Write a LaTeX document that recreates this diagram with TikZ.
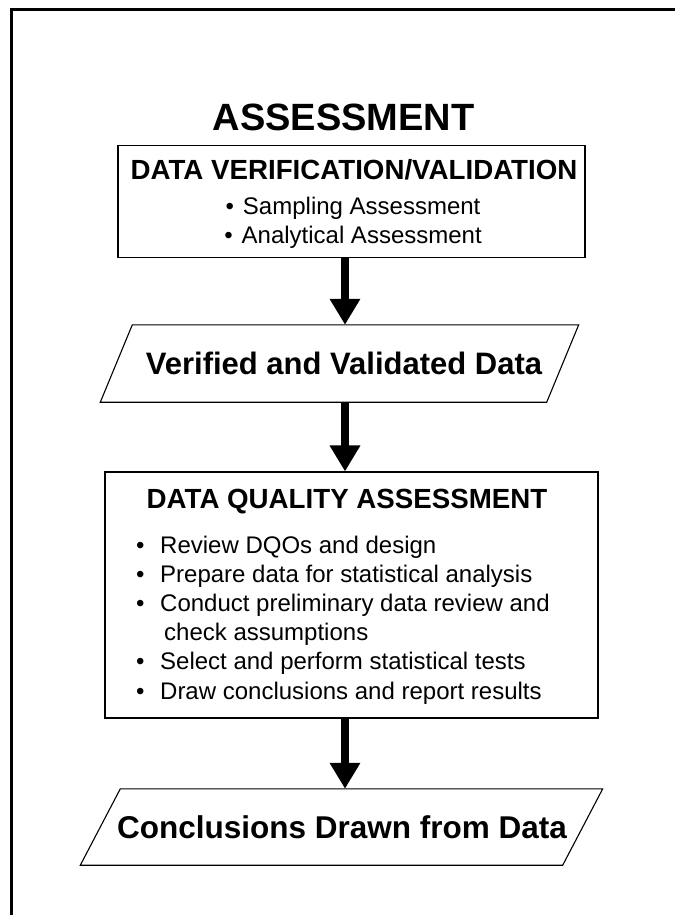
\documentclass[tikz,border=0pt]{standalone}
\usepackage{fontspec}
\setmainfont{Liberation Sans}
\usetikzlibrary{arrows.meta,calc}
\begin{document}
\begin{tikzpicture}[x=1pt,y=-1pt,
  hdr/.style={font=\fontsize{27.7}{32}\selectfont\bfseries, anchor=base, inner sep=0pt},
  itm/.style={font=\fontsize{24}{29}\selectfont, anchor=base west, inner sep=0pt},
  ctr/.style={font=\fontsize{24}{29}\selectfont, anchor=base, inner sep=0pt},
  boxn/.style={draw, line width=1.1pt, inner sep=0pt, rectangle},
  parn/.style={inner sep=0pt},
  partxt/.style={font=\fontsize{31}{36}\selectfont\bfseries, inner sep=0pt},
  paredge/.style={line width=1.1pt, line join=miter},
  flow/.style={line width=8pt, -{Triangle[length=26pt,width=29pt]}},
]
\useasboundingbox (0,0) rectangle (675,915);
\coordinate (axis) at (345,0);
% outer frame (top and left only)
\draw[line width=3.5pt, line join=miter] (11.5,915) -- (11.5,9.5) -- (675,9.5);

% title
\node[font=\fontsize{38}{44}\selectfont\bfseries, anchor=base, inner sep=0pt] (title) at (343.5,131) {ASSESSMENT};

% box 1
\node[boxn, minimum width=467pt, minimum height=112pt] (ver) at (351.5,201.5) {};
\node[hdr] (verT) at (354,179.5) {DATA VERIFICATION/VALIDATION};
\node[ctr] (verA) at (353,214) {\textbullet\hspace{9pt}Sampling Assessment};
\node[ctr] (verB) at (353,243) {\textbullet\hspace{9pt}Analytical Assessment};

% parallelogram 1
\node[parn, minimum width=446pt, minimum height=77pt] (vvd) at (339.5,363.5) {};
\draw[paredge] ($(vvd.south west)+(-16,0)$) -- ($(vvd.north west)+(16,0)$) -- ($(vvd.north east)+(16,0)$) -- ($(vvd.south east)+(-16,0)$) -- cycle;
\node[partxt] (vvdT) at (344,363.5) {Verified and Validated Data};

% DQA box
\node[boxn, minimum width=493pt, minimum height=246pt] (dqa) at (351.5,595) {};
\node[hdr] (dqaT) at (347,508) {DATA QUALITY ASSESSMENT};
\node[itm] (d1) at (136,553) {\makebox[24pt][l]{\textbullet}Review DQOs and design};
\node[itm] (d2) at (136,582.2) {\makebox[24pt][l]{\textbullet}Prepare data for statistical analysis};
\node[itm] (d3) at (136,611.4) {\makebox[24pt][l]{\textbullet}Conduct preliminary data review and};
\node[itm] (d3b) at (164,640.6) {check assumptions};
\node[itm] (d4) at (136,669.8) {\makebox[24pt][l]{\textbullet}Select and perform statistical tests};
\node[itm] (d5) at (136,699) {\makebox[24pt][l]{\textbullet}Draw conclusions and report results};

% parallelogram 2
\node[parn, minimum width=482pt, minimum height=76pt] (cdd) at (341.5,827) {};
\draw[paredge] ($(cdd.south west)+(-20,0)$) -- ($(cdd.north west)+(20,0)$) -- ($(cdd.north east)+(20,0)$) -- ($(cdd.south east)+(-20,0)$) -- cycle;
\node[partxt, font=\fontsize{31.5}{36}\selectfont\bfseries] (cddT) at (342,827) {Conclusions Drawn from Data};

% arrows
\draw[flow] (ver.south -| axis) -- (vvd.north -| axis);
\draw[flow] (vvd.south -| axis) -- (dqa.north -| axis);
\draw[flow] (dqa.south -| axis) -- (cdd.north -| axis);
\end{tikzpicture}
\end{document}
